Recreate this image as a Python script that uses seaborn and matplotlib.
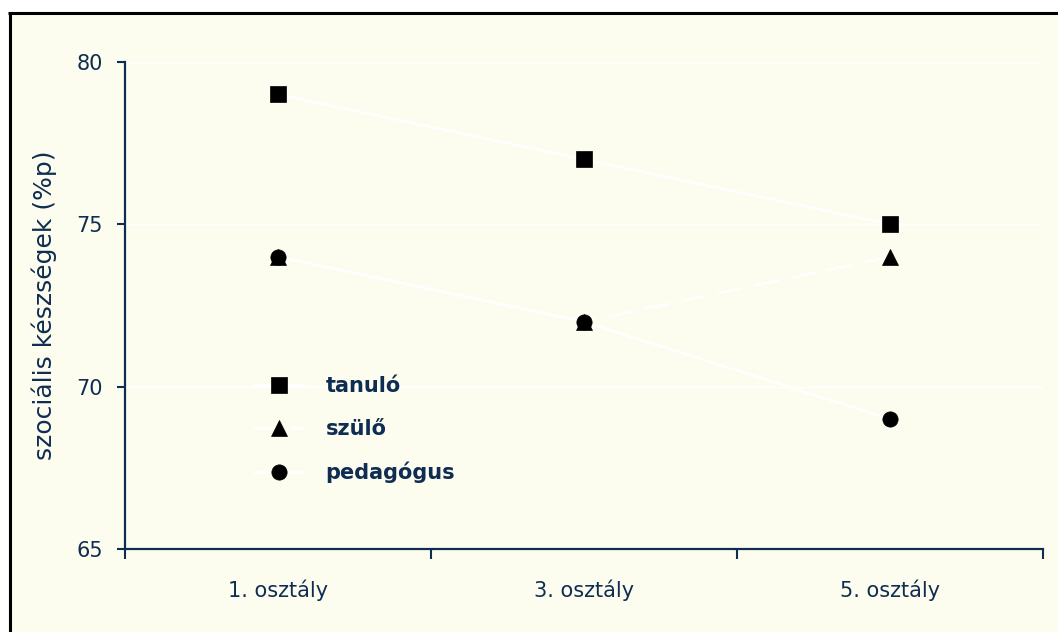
import pandas as pd
import matplotlib
matplotlib.use("Agg")
import matplotlib.pyplot as plt
from matplotlib.patches import Rectangle
from matplotlib.lines import Line2D
from matplotlib.ticker import FixedLocator, NullFormatter, FixedFormatter
import seaborn as sns

# data
osztalyok = ['1. osztály', '3. osztály', '5. osztály']
tanulo = [79, 77, 75]
szulo = [74, 72, 74]
pedagogus = [74, 72, 69]
csoportok = ['tanuló', 'szülő', 'pedagógus']

df = pd.DataFrame({
    'osztaly': osztalyok * 3,
    'ertek': tanulo + szulo + pedagogus,
    'csoport': [c for c in csoportok for _ in osztalyok],
})

sns.set_style("white")
plt.rcParams['font.family'] = ['DejaVu Sans']

navy = '#0f2d52'
cream = '#fdfdef'

fig = plt.figure(figsize=(10.58, 6.32), dpi=100, facecolor='white')

# cream background panel with black border on top / left (cropped frame)
fig.patches.append(Rectangle((8 / 1058, 0), 1, (632 - 13) / 632, transform=fig.transFigure,
                             facecolor=cream, edgecolor='none', zorder=-10))
fig.lines.append(Line2D([8 / 1058, 1], [1 - 13 / 632, 1 - 13 / 632], transform=fig.transFigure,
                        color='black', lw=2.2, solid_capstyle='butt', zorder=-5))
fig.lines.append(Line2D([9.5 / 1058, 9.5 / 1058], [0, 1 - 12 / 632], transform=fig.transFigure,
                        color='black', lw=2.2, solid_capstyle='butt', zorder=-5))

ax = fig.add_axes([125 / 1058, 83 / 632, 918 / 1058, 487 / 632])
ax.set_facecolor('none')

sns.lineplot(data=df, x='osztaly', y='ertek', style='csoport', style_order=csoportok,
             markers={'tanuló': 's', 'szülő': '^', 'pedagógus': 'o'},
             dashes={'tanuló': (1, 0), 'szülő': (10, 5), 'pedagógus': (1, 0)},
             color='white', lw=1.8, markersize=11, markerfacecolor='black',
             markeredgecolor='black', markeredgewidth=0.5,
             estimator=None, sort=False, legend=False, ax=ax)

ax.set_ylim(65, 80)
ax.set_yticks([65, 70, 75, 80])
ax.set_xlim(-0.5, 2.5)
ax.xaxis.set_major_locator(FixedLocator([-0.5, 0.5, 1.5, 2.5]))
ax.xaxis.set_major_formatter(NullFormatter())
ax.xaxis.set_minor_locator(FixedLocator([0, 1, 2]))
ax.xaxis.set_minor_formatter(FixedFormatter(osztalyok))
ax.tick_params(axis='x', which='minor', bottom=True, length=0, pad=22, labelsize=15,
               labelcolor=navy)
ax.tick_params(axis='x', which='major', bottom=True, length=7, width=1.5, color=navy,
               direction='out')
ax.tick_params(axis='y', left=True, length=6, width=1.5, color=navy, direction='out', pad=10,
               labelsize=15, labelcolor=navy)

ax.yaxis.grid(True, color='white', lw=1)
ax.set_axisbelow(True)

for s in ['top', 'right']:
    ax.spines[s].set_visible(False)
for s in ['left', 'bottom']:
    ax.spines[s].set_color(navy)
    ax.spines[s].set_linewidth(1.6)

ax.set_xlabel('')
ax.set_ylabel('szociális készségek (%p)', fontsize=18, color=navy, labelpad=14)

leg = ax.legend(handles=ax.lines[:3], labels=csoportok, loc='upper left',
                bbox_to_anchor=(0.139, 0.355), frameon=False, borderpad=0,
                borderaxespad=0, handlelength=2.5, handletextpad=1.0,
                labelspacing=1.1, prop={'size': 15, 'weight': 'bold'})
for t in leg.get_texts():
    t.set_color(navy)

fig.savefig('out.png', dpi=100, facecolor='white')
